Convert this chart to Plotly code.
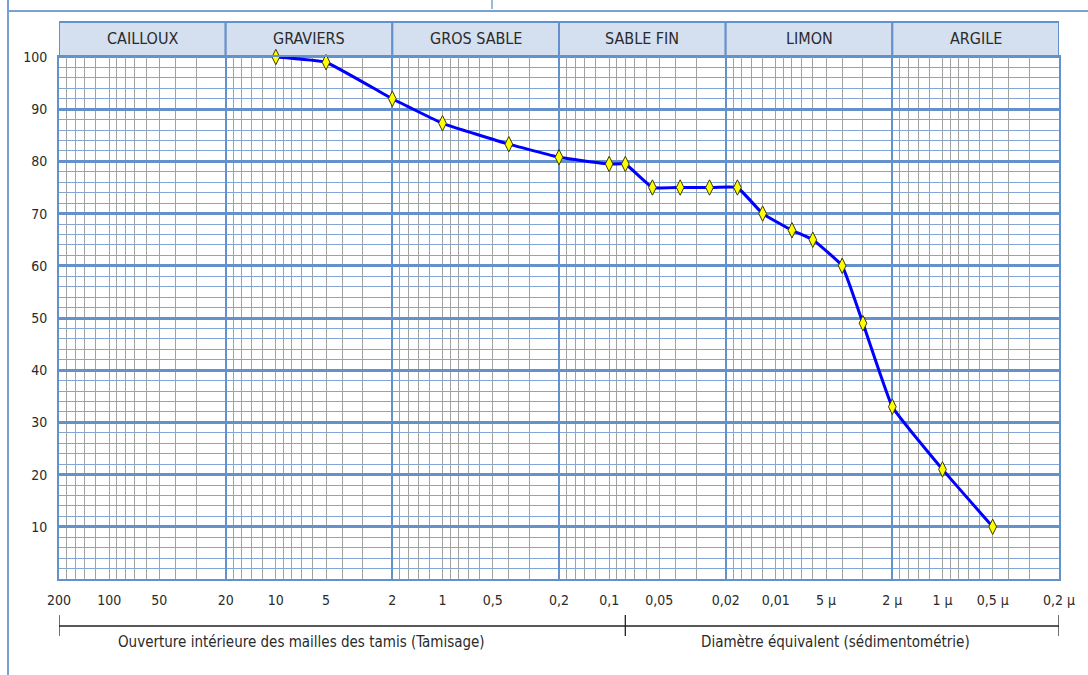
import numpy as np
import plotly.graph_objects as go

# ---- data ----
diam_mm = [10, 5, 2, 1, 0.4, 0.2, 0.1, 0.08, 0.055, 0.0375, 0.025, 0.017,
           0.012, 0.008, 0.006, 0.004, 0.003, 0.002, 0.001, 0.0005]
passing = [100, 99, 92, 87.3, 83.3, 80.8, 79.5, 79.5, 75, 75, 75, 75,
           70, 66.8, 65, 60, 49, 33, 21, 10]

x_tick_vals = [200, 100, 50, 20, 10, 5, 2, 1, 0.5, 0.2, 0.1, 0.05, 0.02,
               0.01, 0.005, 0.002, 0.001, 0.0005, 0.0002]
x_tick_text = ["200", "100", "50", "20", "10", "5", "2", "1", "0,5", "0,2",
               "0,1", "0,05", "0,02", "0,01", "5 µ", "2 µ", "1 µ", "0,5 µ", "0,2 µ"]

classes = ["CAILLOUX", "GRAVIERS", "GROS SABLE", "SABLE FIN", "LIMON", "ARGILE"]
class_bounds = [200, 20, 2, 0.2, 0.02, 0.002, 0.0002]

minor_mult = [3, 4, 5, 6, 7, 8, 9, 10, 12, 14, 16, 18]
minor_vals = [m * 10.0 ** n for n in range(-4, 2) for m in minor_mult]

sieve_limit = 0.08
left_caption = "Ouverture intérieure des mailles des tamis (Tamisage)"
right_caption = "Diamètre équivalent (sédimentométrie)"

BLUE = "#6490CB"
BLUE_MINOR = "#80A5D6"
GRAY = "#A2A2A2"
FONT = "DejaVu Sans Condensed, DejaVu Sans, sans-serif"
TXT = "#2A2A2A"

fig = go.Figure()

# invisible trace carrying the grid axis
fig.add_trace(go.Scatter(x=[200, 0.0002], y=[0, 0], xaxis="x2", mode="markers",
                         marker=dict(opacity=0), hoverinfo="skip"))

fig.add_trace(go.Scatter(
    x=diam_mm, y=passing, mode="lines+markers", cliponaxis=False,
    line=dict(color="#0000FF", width=3, shape="spline", smoothing=0.3),
    marker=dict(symbol="diamond-tall", size=11, color="#FFFF00",
                line=dict(color="#3A3A00", width=1)),
))

xr = [np.log10(200), np.log10(0.0002)]
fig.update_layout(
    width=1088, height=675,
    margin=dict(l=59, r=29, t=57, b=96),
    plot_bgcolor="white", paper_bgcolor="white",
    showlegend=False,
    xaxis=dict(type="log", range=xr, tickmode="array", tickvals=x_tick_vals,
               ticktext=x_tick_text, showgrid=False, zeroline=False,
               ticks="", ticklabelstandoff=7,
               tickfont=dict(family=FONT, size=14, color=TXT),
               showline=True, linecolor=BLUE, linewidth=2, mirror=True),
    xaxis2=dict(type="log", range=xr, overlaying="x", anchor="y",
                tickmode="array", tickvals=class_bounds, showticklabels=False,
                showgrid=True, gridcolor=BLUE, gridwidth=2, ticks="",
                minor=dict(tickmode="array", tickvals=minor_vals, showgrid=True,
                           gridcolor=GRAY, gridwidth=1.3)),
    yaxis=dict(range=[0, 100], tickmode="array", tickvals=list(range(10, 101, 10)),
               showgrid=True, gridcolor=BLUE, gridwidth=2.5, zeroline=False,
               ticks="", ticklabelstandoff=7,
               tickfont=dict(family=FONT, size=14, color=TXT),
               showline=True, linecolor=BLUE, linewidth=2, mirror=True,
               minor=dict(dtick=2, showgrid=True, gridcolor=BLUE_MINOR, gridwidth=1.3)),
)

shapes = []
annotations = []
hdr_top = 1 + 35 / 522
for name, a, b in zip(classes, class_bounds[:-1], class_bounds[1:]):
    shapes.append(dict(type="rect", xref="x", yref="paper", x0=a, x1=b, y0=1, y1=hdr_top,
                       layer="below", fillcolor="#D4E0EF", line=dict(color=BLUE, width=2)))
    annotations.append(dict(xref="x", yref="paper", x=np.log10(np.sqrt(a * b)),
                            y=1 + 18 / 522, xanchor="center", yanchor="middle",
                            text=name, showarrow=False,
                            font=dict(family=FONT, size=16, color=TXT)))

# bottom bracket
yb = -47 / 522
shapes.append(dict(type="line", xref="x", yref="paper", x0=class_bounds[0],
                   x1=class_bounds[-1], y0=yb, y1=yb, line=dict(color="#222222", width=1.3)))
for xv in [class_bounds[0], sieve_limit, class_bounds[-1]]:
    shapes.append(dict(type="line", xref="x", yref="paper", x0=xv, x1=xv,
                       y0=-36 / 522, y1=-57 / 522, line=dict(color="#222222", width=1.3)))
annotations.append(dict(xref="paper", yref="paper", x=0.242, y=-63 / 522,
                        xanchor="center", yanchor="middle",
                        text=left_caption, showarrow=False,
                        font=dict(family=FONT, size=15, color=TXT)))
annotations.append(dict(xref="paper", yref="paper", x=0.776, y=-63 / 522,
                        xanchor="center", yanchor="middle",
                        text=right_caption, showarrow=False,
                        font=dict(family=FONT, size=15, color=TXT)))

# outer frame fragments
shapes.append(dict(type="line", xref="paper", yref="paper", x0=-51 / 1000, x1=1.03,
                   y0=1 + 46 / 522, y1=1 + 46 / 522, line=dict(color="#7BA0D2", width=2)))
shapes.append(dict(type="line", xref="paper", yref="paper", x0=-51 / 1000, x1=-51 / 1000,
                   y0=1 + 58 / 522, y1=-0.19, line=dict(color="#7BA0D2", width=2)))
shapes.append(dict(type="line", xref="paper", yref="paper", x0=433 / 1000, x1=433 / 1000,
                   y0=1 + 58 / 522, y1=1 + 48 / 522, line=dict(color="#7BA0D2", width=1.5)))

fig.update_layout(shapes=shapes, annotations=annotations)
fig.write_html("out.html")
